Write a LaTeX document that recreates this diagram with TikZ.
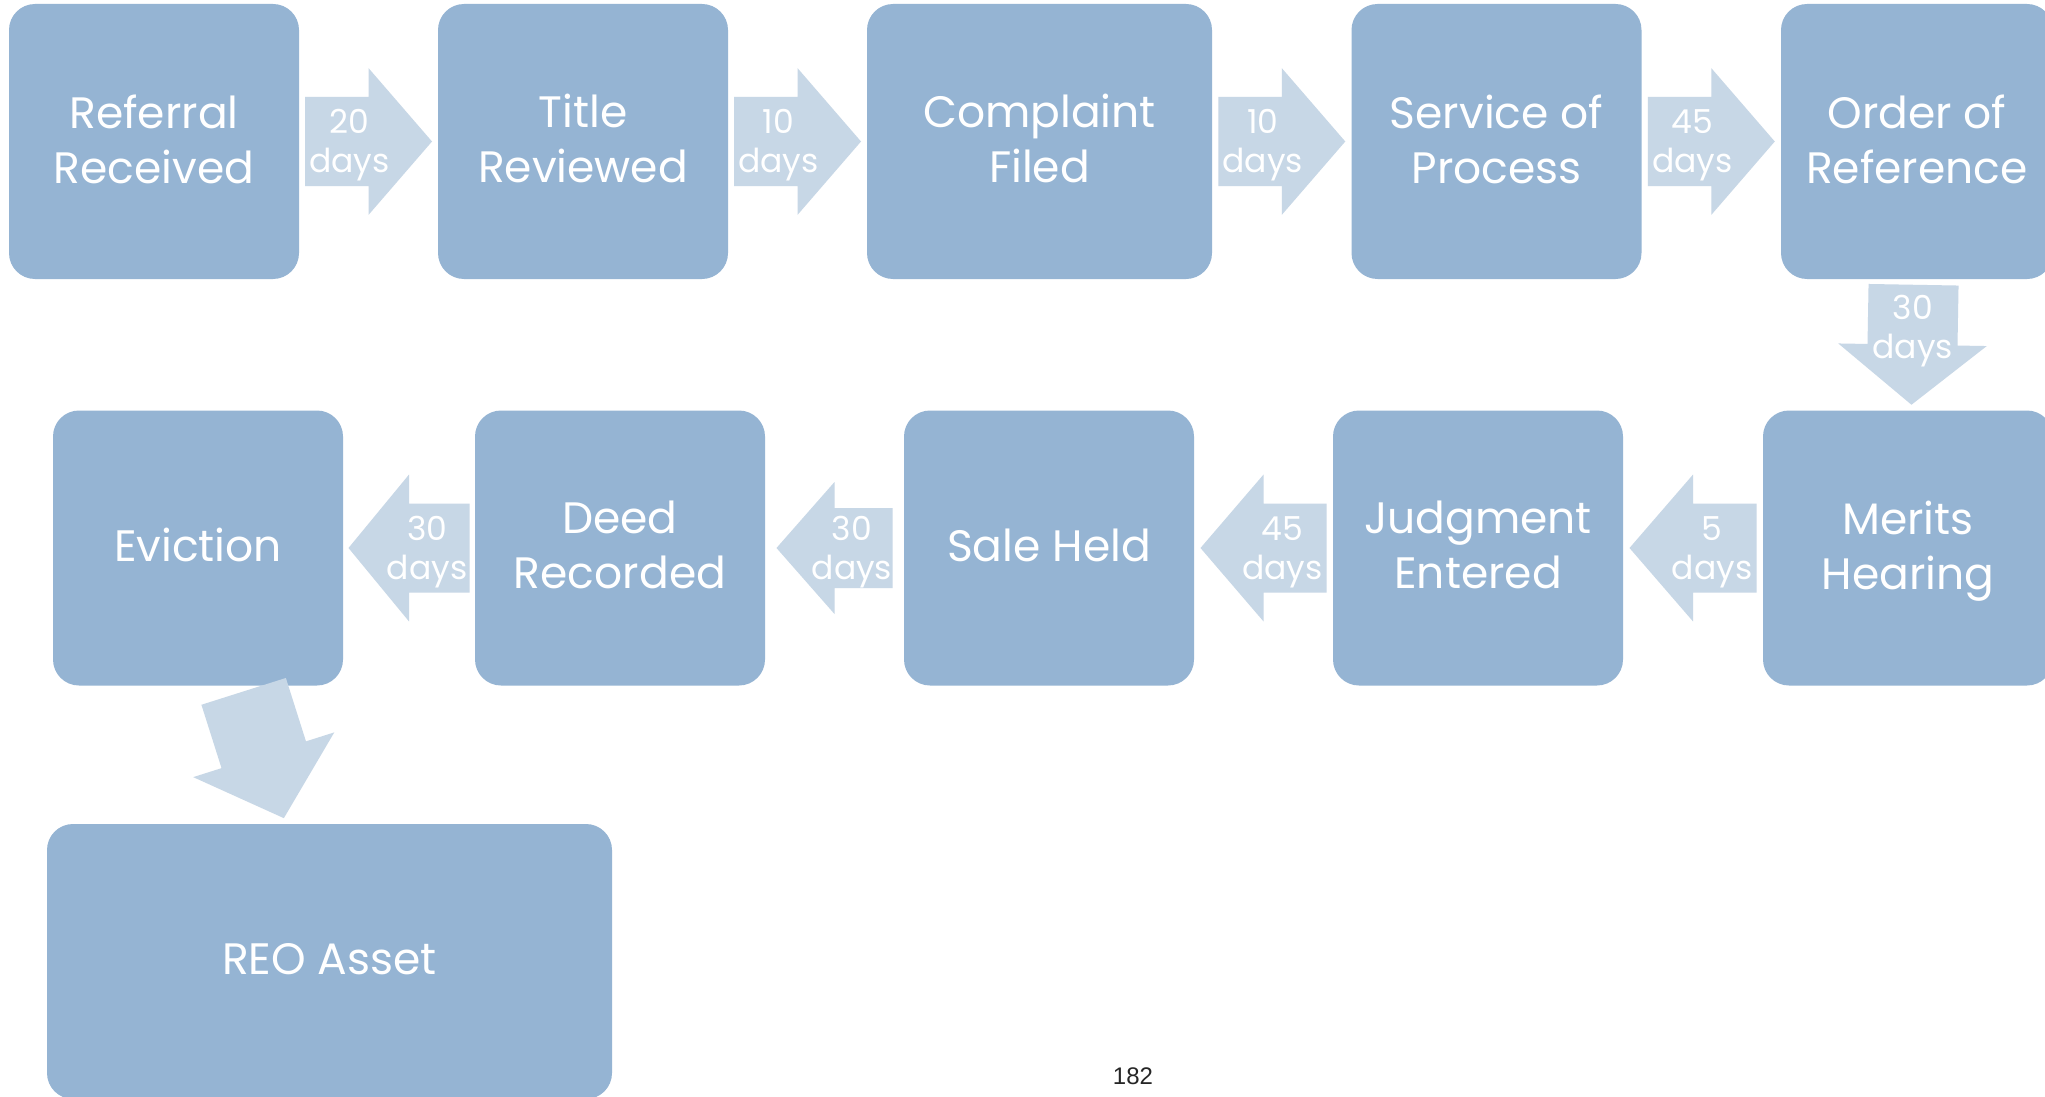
\documentclass[tikz,border=0pt]{standalone}
\usepackage{fontspec}
\setmainfont{Poppins}
\newfontfamily\pagefont{Liberation Sans}
\usepackage{tikz}
\usetikzlibrary{calc}
\usepackage{xcolor}

\definecolor{stageblue}{HTML}{95B4D3}
\definecolor{arrowblue}{HTML}{C7D7E6}

\tikzset{
  stage/.style={rectangle, rounded corners=13pt, fill=stageblue, text=white,
    align=center, inner sep=0pt, minimum width=145pt, minimum height=137.5pt,
    text depth=2.8pt, font=\fontsize{22}{27.5}\selectfont},
  dayslabel/.style={text=white, align=center, inner sep=0pt, yshift=-2pt,
    font=\fontsize{16.5}{19.5}\selectfont},
  blockarrow/.style={fill=arrowblue}
}

\begin{document}
\begin{tikzpicture}[x=0.5pt,y=0.5pt]
			\useasboundingbox[fill=white] (0,0) rectangle (2045,-1097);
			% first row
			\node[stage] (ref) at (154,-141.5) {Referral\\Received};
			\node[stage] (title) at (583,-141.5) {Title\\Reviewed};
			\node[stage, minimum width=172.5pt] (compl) at (1039.5,-141.5) {Complaint\\Filed};
			\node[stage] (serv) at (1496.5,-141.5) {Service of\\Process};
			\node[stage, minimum width=136pt] (order) at (1917,-141.5) {Order of\\Reference};
			% second row, read from right to left
			\node[stage] (merits) at (1908,-548) {Merits\\Hearing};
			\node[stage] (judg) at (1478,-548) {Judgment\\Entered};
			\node[stage] (sale) at (1049,-548) {Sale Held};
			\node[stage] (deed) at (620,-548) {Deed\\Recorded};
			\node[stage] (evict) at (198,-548) {Eviction};
			\node[stage, minimum width=282.5pt] (reo) at (329.5,-961.5) {REO Asset};
			% block arrows half way between two stages
			\foreach \a/\b/\ang/\l/\w/\d in {ref.east/title.west/0/127/44.5/20,
					title.east/compl.west/0/127/44.5/10, compl.east/serv.west/0/127/44.5/10,
					serv.east/order.west/0/127/44.5/45, order.south/merits.north/-91/120/45/30,
					merits.west/judg.east/180/127/44.5/5, judg.west/sale.east/180/126/44.5/45,
					sale.west/deed.east/180/116/40/30, deed.west/evict.east/180/121/44.5/30}
			{
				\begin{scope}[shift={($(\a)!0.5!(\b)$)}, rotate=\ang]
					\fill[blockarrow] ({-\l/2},{-\w}) -- (0,{-\w}) -- (0,{-1.65*\w}) -- ({\l/2},0)
						-- (0,{1.65*\w}) -- (0,\w) -- ({-\l/2},\w) -- cycle;
					\node[dayslabel] at ({-0.15*\l},0) {\d\\days};
				\end{scope}
			}
			% last step has no duration
			\begin{scope}[shift={($(evict.south)!0.5!(reo.north)$)}, rotate=-72.4]
				\fill[blockarrow] (-66.5,-44.3) -- (0,-44.3) -- (0,-74) -- (66.5,0)
					-- (0,74) -- (0,44.3) -- (-66.5,44.3) -- cycle;
			\end{scope}
			\node[font=\pagefont\fontsize{12}{14}\selectfont, text=black!85] (page) at (1133,-1076) {182};
		\end{tikzpicture}
\end{document}
